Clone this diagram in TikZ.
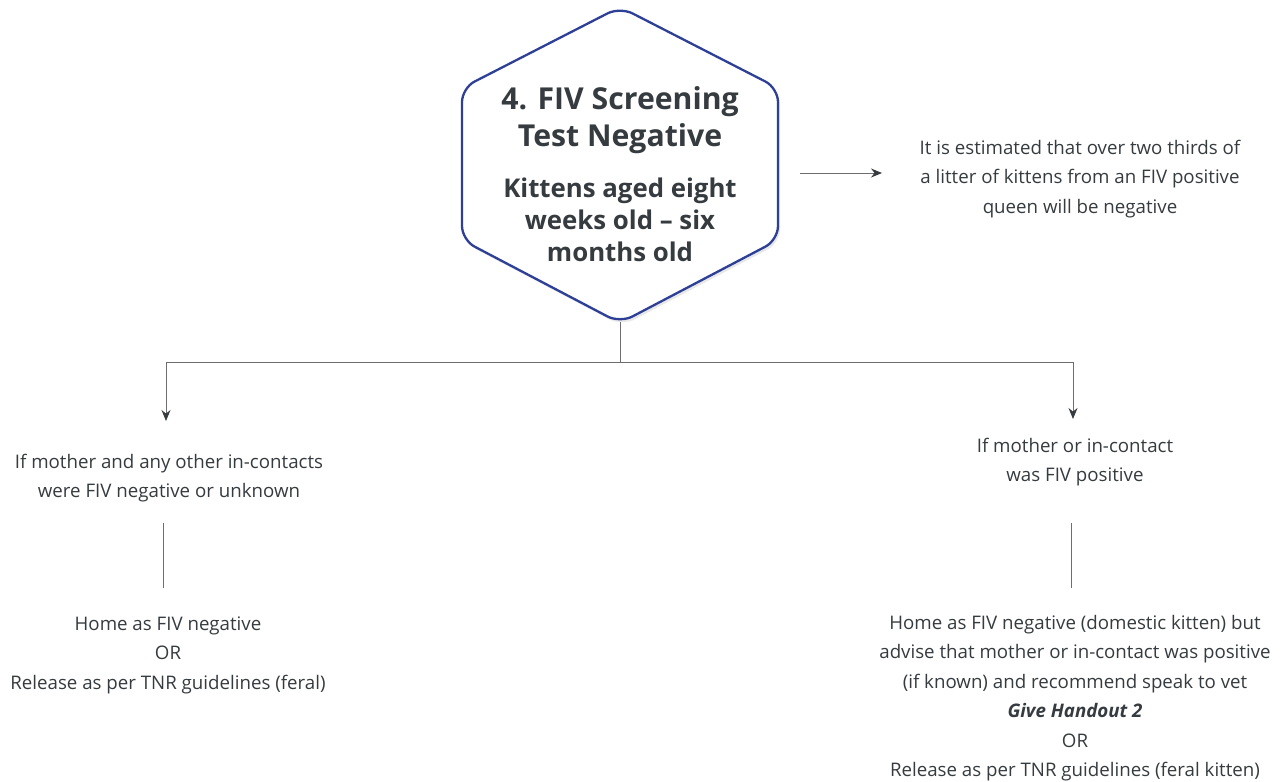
\documentclass[tikz,border=0pt]{standalone}
\usepackage{fontspec}
\setmainfont{Open Sans}
\usetikzlibrary{arrows.meta,shadows}
\definecolor{txt}{HTML}{363B3F}
\definecolor{hexblue}{HTML}{2E3F96}
\definecolor{ln}{HTML}{6E6E6E}
\begin{document}
\begin{tikzpicture}[x=1pt,y=-1pt,
  conn/.style={draw=ln, line width=1pt},
  arr/.style={conn, -{Stealth[length=11pt,width=9pt,color=txt,fill=txt]}},
  body/.style={text=txt, align=center, font=\fontsize{18.7}{29.5}\selectfont, inner sep=0pt},
  title/.style={text=txt, align=center, inner sep=0pt, font=\bfseries}]
\useasboundingbox (0,0) rectangle (1286,782);
% hexagon
\path[draw=hexblue, line width=2.3pt, fill=white, rounded corners=14pt,
  drop shadow={opacity=0.18, shadow xshift=2pt, shadow yshift=-3pt}]
  (620,7) -- (778,88) -- (778,240) -- (620,323) -- (462,240) -- (462,88) -- cycle;
\coordinate (hexbot) at (620,322);
\coordinate (hexright) at (800,173);
\node[title, font=\bfseries\fontsize{30.2}{37}\selectfont] (hexA) at (620,120) {4. FIV Screening\\Test Negative};
\node[title, font=\bfseries\fontsize{25.8}{32}\selectfont] (hexB) at (620,220) {Kittens aged eight\\weeks old -- six\\months old};
% side note
\node[body] (note) at (1080,179) {It is estimated that over two thirds of\\a litter of kittens from an FIV positive\\queen will be negative};
\coordinate (noteL) at (882,173);
\draw[arr] (hexright) -- (noteL);
% branches
\coordinate (split) at (620,362);
\coordinate (lt) at (166,362);
\coordinate (rt) at (1073,362);
\coordinate (la) at (166,421);
\coordinate (ra) at (1073,419);
\draw[conn] (hexbot) -- (split);
\draw[conn] (lt) -- (rt);
\draw[arr] (lt) -- (la);
\draw[arr] (rt) -- (ra);
\node[body] (condL) at (169,478) {If mother and any other in-contacts\\were FIV negative or unknown};
\node[body] (condR) at (1075,462) {If mother or in-contact\\was FIV positive};
\coordinate (l1) at (163,523);
\coordinate (l2) at (163,588);
\coordinate (r1) at (1071,523);
\coordinate (r2) at (1071,588);
\draw[conn] (l1) -- (l2);
\draw[conn] (r1) -- (r2);
\node[body] (outL) at (168,655) {Home as FIV negative\\OR\\Release as per TNR guidelines (feral)};
\node[body] (outR) at (1075,698) {Home as FIV negative (domestic kitten) but\\advise that mother or in-contact was positive\\(if known) and recommend speak to vet\\\textbf{\textit{Give Handout 2}}\\OR\\Release as per TNR guidelines (feral kitten)};
\end{tikzpicture}
\end{document}
